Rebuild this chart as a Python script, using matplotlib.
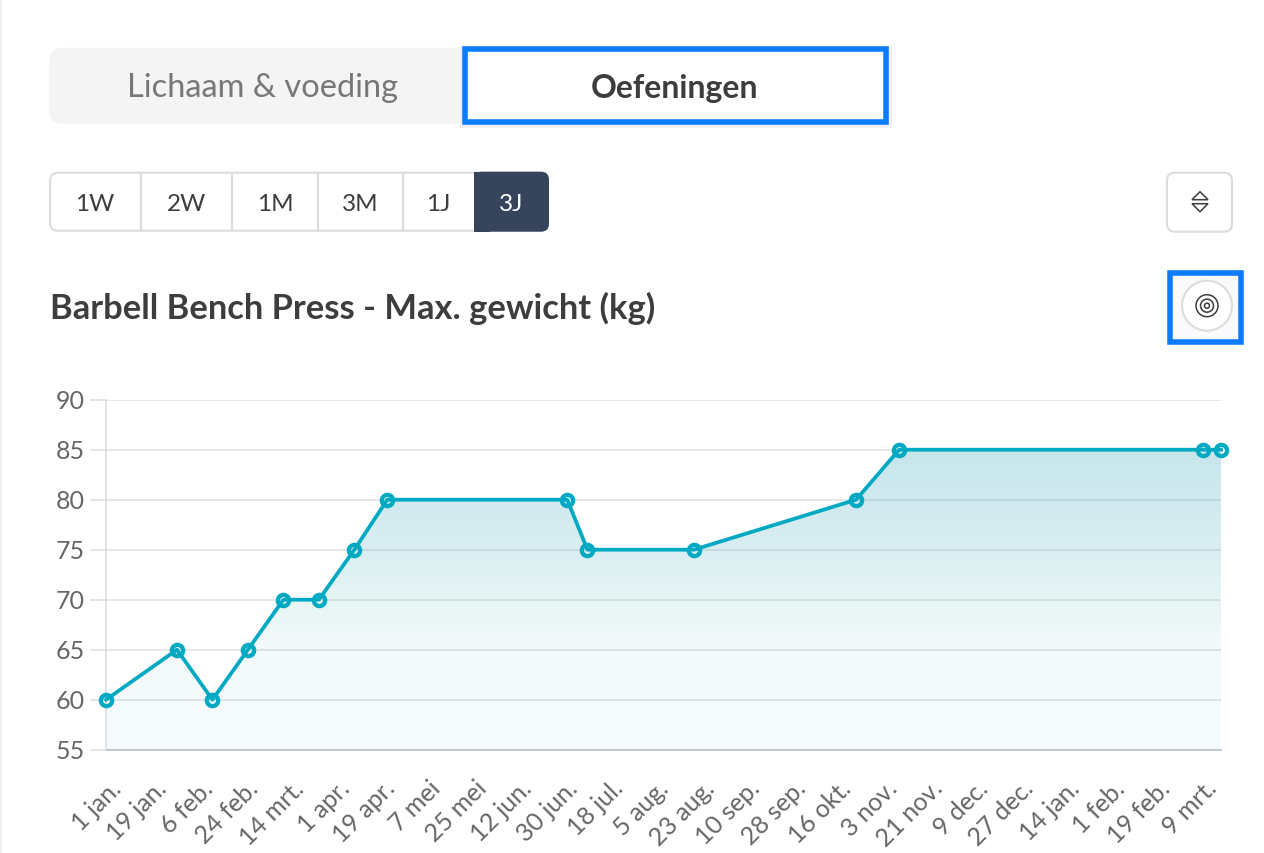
import numpy as np
import matplotlib
matplotlib.use("Agg")
import matplotlib.pyplot as plt
from matplotlib.patches import FancyBboxPatch, Rectangle, Circle, Polygon
from matplotlib.transforms import ScaledTranslation

W, H = 1264, 854

plt.rcParams["font.family"] = ["Lato", "DejaVu Sans"]

days = [0, 28, 42, 56, 70, 84, 98, 111, 182, 190, 232, 296, 313, 433, 440]
weights = [60, 65, 60, 65, 70, 70, 75, 80, 80, 75, 75, 80, 85, 85, 85]
tick_days = list(range(0, 433, 18))
tick_labels = ["1 jan.", "19 jan.", "6 feb.", "24 feb.", "14 mrt.", "1 apr.", "19 apr.", "7 mei",
               "25 mei", "12 jun.", "30 jun.", "18 jul.", "5 aug.", "23 aug.", "10 sep.", "28 sep.",
               "16 okt.", "3 nov.", "21 nov.", "9 dec.", "27 dec.", "14 jan.", "1 feb.", "19 feb.", "9 mrt."]
y_ticks = [55, 60, 65, 70, 75, 80, 85, 90]
ranges = ["1W", "2W", "1M", "3M", "1J", "3J"]
range_edges = [49, 141, 232, 318, 403, 474, 549]

TEAL = "#00a9c2"
BLUE = "#0a7cff"
BORDER = "#dcdcdc"
DARK = "#3d3d3d"

fig = plt.figure(figsize=(W / 100, H / 100), dpi=100, facecolor="white")

# overlay in pixel coordinates for the app interface around the chart
ui = fig.add_axes([0, 0, 1, 1])
ui.set_xlim(0, W)
ui.set_ylim(H - 0.7, -0.7)
ui.axis("off")


def box(x0, y0, x1, y1, r=0, **kw):
    if r:
        p = FancyBboxPatch((x0, y0), x1 - x0, y1 - y0, boxstyle=f"round,pad=0,rounding_size={r}", **kw)
    else:
        p = Rectangle((x0, y0), x1 - x0, y1 - y0, **kw)
    ui.add_patch(p)


ui.plot([1, 1], [0, H], color="#efefef", lw=1.4)

# tabs
box(49, 48, 480, 124, r=14, fc="#f4f4f4", ec="none")
box(460, 46, 892, 128, fc="#f0f0f4", ec="none")
box(464.5, 49.5, 886, 122, fc="white", ec=BLUE, lw=4)
ui.text(263, 87.5, "Lichaam & voeding", fontsize=23.5, color="#777777", ha="center", va="center")
ui.text(675, 87.5, "Oefeningen", fontsize=23, color=DARK, fontweight="bold", ha="center", va="center")

# range selector
box(50, 173, 548, 231, r=8, fc="white", ec=BORDER, lw=1.5)
for x in range_edges[1:5]:
    ui.plot([x, x], [173, 231], color=BORDER, lw=1.5)
box(474, 172, 549, 232, r=8, fc="#36455c", ec="none")
box(474, 172, 490, 232, fc="#36455c", ec="none")
for i, label in enumerate(ranges):
    ui.text((range_edges[i] + range_edges[i + 1]) / 2, 204, label, fontsize=17.5, ha="center", va="center",
            color="white" if label == "3J" else DARK)

# sort button
box(1167, 173, 1232, 232, r=8, fc="white", ec=BORDER, lw=1.5)
ui.add_patch(Polygon([(1200, 192), (1192, 200), (1208, 200)], closed=True, fc="white", ec=DARK, lw=1.1))
ui.add_patch(Polygon([(1200, 212), (1192, 204), (1208, 204)], closed=True, fc="white", ec=DARK, lw=1.1))

# title and target button
ui.text(50, 308, "Barbell Bench Press - Max. gewicht (kg)", fontsize=24.8, color=DARK, fontweight="bold",
        ha="left", va="center")
box(1170, 273.5, 1241, 342, fc="#fafafc", ec=BLUE, lw=4)
ui.add_patch(Circle((1207, 306), 25, fc="white", ec=BORDER, lw=1.5))
for r in [11, 6.5, 2.5]:
    ui.add_patch(Circle((1207, 306), r, fc="none", ec=DARK, lw=1.1))

# chart
ax = fig.add_axes([106 / W, 1 - 750.7 / H, (1221 - 106) / W, 350 / H])
ax.patch.set_alpha(0)

poly = ax.fill_between(days, weights, 55, color="none", lw=0)
stops = [0, 0.33, 0.5, 0.67, 1]
stop_colors = np.array([matplotlib.colors.to_rgb(c) for c in ["#c6e6ec", "#daeef2", "#e6f5f4", "#f4fafc", "#f6fbfe"]])
t = np.linspace(0, 1, 256)
grad = np.stack([np.interp(t, stops, stop_colors[:, i]) for i in range(3)], axis=1)[:, None, :]
im = ax.imshow(grad, extent=[0, 440, 55, 85], aspect="auto", zorder=1, origin="upper")
im.set_clip_path(poly.get_paths()[0], transform=ax.transData)
ax.set_xlim(0, 440)
ax.set_ylim(55, 90)

ax.set_yticks(y_ticks)
ax.grid(axis="y", color="#7d8d99", alpha=0.2, lw=1.4, zorder=2)
ax.set_axisbelow(False)
ax.tick_params(axis="y", length=11.5, width=1.4, color="#e3e5e7", pad=4, labelsize=18, labelcolor="#666666")
ax.set_xticks(tick_days)
ax.set_xticklabels(tick_labels, rotation=45, ha="right", va="top", rotation_mode="anchor", fontsize=18,
                   color="#666666")
ax.tick_params(axis="x", length=0, pad=0)
offset = ScaledTranslation(3.5 / 100, -26 / 100, fig.dpi_scale_trans)
for lab in ax.get_xticklabels():
    lab.set_transform(lab.get_transform() + offset)
up = ScaledTranslation(0, 1 / 100, fig.dpi_scale_trans)
for lab in ax.get_yticklabels():
    lab.set_transform(lab.get_transform() + up)

for s in ["top", "right"]:
    ax.spines[s].set_visible(False)
ax.spines["left"].set_color("#e0e3e5")
ax.spines["left"].set_linewidth(1.4)
ax.spines["bottom"].set_color("#c9ced3")
ax.spines["bottom"].set_linewidth(1.5)

ax.plot(days, weights, color=TEAL, lw=2.7, marker="o", ms=8.1, mew=3.1, mfc="none", mec=TEAL, clip_on=False,
        zorder=5)

fig.savefig("out.png", dpi=100)
